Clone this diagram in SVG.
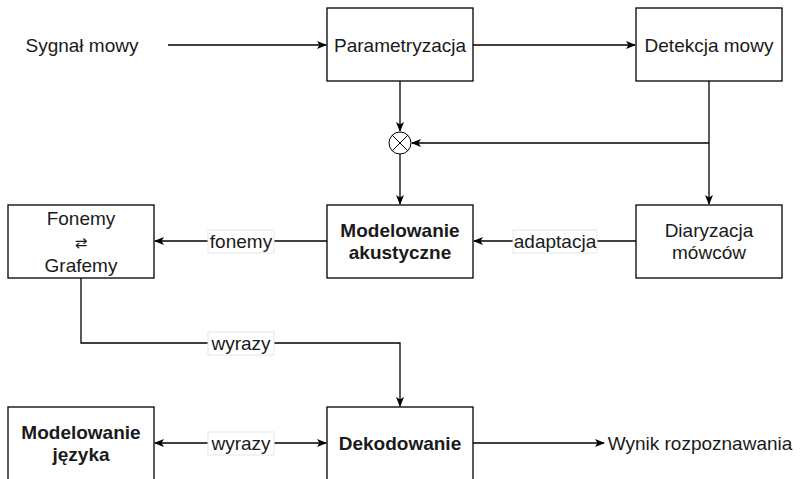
<svg xmlns="http://www.w3.org/2000/svg" width="800" height="479" viewBox="0 0 800 479">
<style>
.box{fill:#fff;stroke:#000;stroke-width:1.3}
.t{font-family:"Liberation Sans",Arial,sans-serif;font-size:19px;fill:#1a1a1a;text-anchor:middle}
.b{font-weight:bold}
.e{fill:none;stroke:#000;stroke-width:1.3}
.lb{fill:#fff;stroke:#e6e6e6;stroke-width:1}
</style>
<defs>
<marker id="ah" viewBox="0 0 10 10" refX="9" refY="5" markerWidth="10" markerHeight="10" markerUnits="userSpaceOnUse" orient="auto-start-reverse">
<path d="M0,1 L10,5 L0,9 L2.5,5 Z" fill="#000"/>
</marker>
</defs>
<rect width="800" height="479" fill="#fff"/>
<g id="connectors">
<path class="e" d="M168,45 H326" marker-end="url(#ah)"/>
<path class="e" d="M473,45 H635" marker-end="url(#ah)"/>
<path class="e" d="M400,81 V131" marker-end="url(#ah)"/>
<path class="e" d="M709,81 V204" marker-end="url(#ah)"/>
<path class="e" d="M709,143 H412" marker-end="url(#ah)"/>
<path class="e" d="M400,154 V204" marker-end="url(#ah)"/>
<path class="e" d="M636,241 H474" marker-end="url(#ah)"/>
<path class="e" d="M327,241 H155" marker-end="url(#ah)"/>
<path class="e" d="M81,278 V343 H400 V406" marker-end="url(#ah)"/>
<path class="e" d="M155,443 H326" marker-start="url(#ah)" marker-end="url(#ah)"/>
<path class="e" d="M473,443 H604" marker-end="url(#ah)"/>
<rect class="lb" x="513" y="230" width="84" height="23"/>
<text class="t" x="555" y="248">adaptacja</text>
<rect class="lb" x="208" y="230" width="66" height="23"/>
<text class="t" x="241" y="248">fonemy</text>
<rect class="lb" x="208" y="332" width="66" height="23"/>
<text class="t" x="241" y="350">wyrazy</text>
<rect class="lb" x="208" y="432" width="66" height="23"/>
<text class="t" x="241" y="450">wyrazy</text>
</g>
<g id="sygnal"><text class="t" x="82" y="52">Sygnał mowy</text></g>
<g id="param"><rect class="box" x="327" y="8" width="146" height="73"/><text class="t" x="400" y="52">Parametryzacja</text></g>
<g id="detekcja"><rect class="box" x="636" y="8" width="146" height="73"/><text class="t" x="709" y="52">Detekcja mowy</text></g>
<g id="mix"><circle cx="400" cy="143" r="11" fill="#fff" stroke="#000" stroke-width="1"/><path d="M392.2,135.2 L407.8,150.8 M407.8,135.2 L392.2,150.8" stroke="#000" stroke-width="1"/></g>
<g id="fonemy"><rect class="box" x="8" y="205" width="146" height="73"/><text class="t" x="81" y="225">Fonemy</text><text class="t" x="81" y="248" style="font-family:'DejaVu Sans',sans-serif;font-size:15px">⇄</text><text class="t" x="81" y="272">Grafemy</text></g>
<g id="akust"><rect class="box" x="327" y="205" width="146" height="73"/><text class="t b" x="400" y="237">Modelowanie</text><text class="t b" x="400" y="259">akustyczne</text></g>
<g id="diar"><rect class="box" x="636" y="205" width="146" height="73"/><text class="t" x="709" y="237">Diaryzacja</text><text class="t" x="709" y="259">mówców</text></g>
<g id="jezyk"><rect class="box" x="8" y="407" width="146" height="80"/><text class="t b" x="81" y="439">Modelowanie</text><text class="t b" x="81" y="461">języka</text></g>
<g id="dekod"><rect class="box" x="327" y="407" width="146" height="80"/><text class="t b" x="400" y="450">Dekodowanie</text></g>
<g id="wynik"><text class="t" x="700" y="450">Wynik rozpoznawania</text></g>
</svg>
